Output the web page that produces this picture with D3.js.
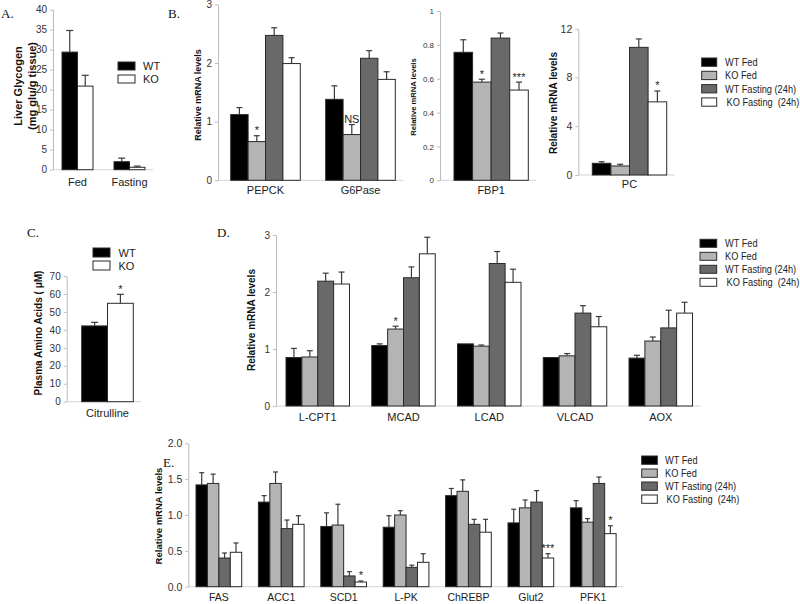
<!DOCTYPE html>
<html><head><meta charset="utf-8">
<script src="https://cdn.jsdelivr.net/npm/d3@7"></script>
<style>
body{margin:0;background:#fff}
svg{display:block}
text{font-family:"Liberation Sans",Arial,sans-serif;white-space:pre}
</style>
</head><body>
<svg id="chart" width="800" height="604"></svg>
<script>
// ---------------- DATA ----------------
// Panel A – liver glycogen
const glycoCats = ["Fed", "Fasting"];
const glycoSeries = ["WT", "KO"];
const glycoValues = [[29.4, 2.0], [20.9, 0.6]];
const glycoErrors = [[5.4, 0.9], [2.7, 0.3]];
const glycoTicks = [0, 5, 10, 15, 20, 25, 30, 35, 40];

// Four-group series used in B, D, E
const fourSeries = ["WT Fed", "KO Fed", "WT Fasting (24h)", "KO Fasting  (24h)"];

// Panel B – gluconeogenic genes
const gngCats = ["PEPCK", "G6Pase"];
const gngValues = [[1.12, 1.38], [0.66, 0.78], [2.47, 2.08], [1.99, 1.72]];
const gngErrors = [[0.12, 0.23], [0.10, 0.17], [0.13, 0.13], [0.10, 0.13]];
const gngTicks = [0, 1, 2, 3];
const gngSig = [["PEPCK", 1, "*"], ["G6Pase", 1, "NS"]];

const fbpCats = ["FBP1"];
const fbpValues = [[0.756], [0.58], [0.84], [0.533]];
const fbpErrors = [[0.074], [0.017], [0.03], [0.047]];
const fbpTicks = [0, 0.2, 0.4, 0.6, 0.8, 1];
const fbpSig = [["FBP1", 1, "*"], ["FBP1", 3, "***"]];

const pcCats = ["PC"];
const pcValues = [[0.96], [0.74], [10.47], [6.0]];
const pcErrors = [[0.13], [0.14], [0.69], [0.89]];
const pcTicks = [0, 4, 8, 12];
const pcSig = [["PC", 3, "*"]];

// Panel C – plasma citrulline
const aaCats = ["Citrulline"];
const aaValues = [[42.2], [54.8]];
const aaErrors = [[2.0], [5.0]];
const aaTicks = [0, 10, 20, 30, 40, 50, 60, 70];
const aaSig = [["Citrulline", 1, "*"]];

// Panel D – fatty-acid oxidation genes
const faoCats = ["L-CPT1", "MCAD", "LCAD", "VLCAD", "AOX"];
const faoValues = [
  [0.85, 1.06, 1.09, 0.85, 0.84],
  [0.86, 1.35, 1.05, 0.88, 1.14],
  [2.19, 2.25, 2.50, 1.63, 1.37],
  [2.14, 2.67, 2.17, 1.39, 1.63]];
const faoErrors = [
  [0.16, 0.03, 0.0, 0.0, 0.05],
  [0.11, 0.05, 0.02, 0.04, 0.07],
  [0.14, 0.19, 0.21, 0.13, 0.31],
  [0.21, 0.29, 0.23, 0.18, 0.19]];
const faoTicks = [0, 1, 2, 3];
const faoSig = [["MCAD", 1, "*"]];

// Panel E – lipogenic / glycolytic genes
const lipoCats = ["FAS", "ACC1", "SCD1", "L-PK", "ChREBP", "Glut2", "PFK1"];
const lipoValues = [
  [1.42, 1.18, 0.84, 0.83, 1.27, 0.89, 1.10],
  [1.44, 1.44, 0.86, 1.00, 1.33, 1.10, 0.90],
  [0.40, 0.81, 0.15, 0.27, 0.87, 1.18, 1.44],
  [0.48, 0.87, 0.065, 0.34, 0.76, 0.40, 0.74]];
const lipoErrors = [
  [0.17, 0.09, 0.19, 0.16, 0.10, 0.19, 0.10],
  [0.13, 0.16, 0.29, 0.06, 0.16, 0.11, 0.05],
  [0.07, 0.12, 0.06, 0.03, 0.07, 0.16, 0.09],
  [0.13, 0.12, 0.015, 0.12, 0.18, 0.06, 0.11]];
const lipoTicks = [0, 0.5, 1.0, 1.5, 2.0];
const lipoSig = [["SCD1", 3, "*"], ["Glut2", 3, "***"], ["PFK1", 3, "*"]];

// ---------------- STYLE ----------------
const FOUR_COLORS = ["#000000", "#b4b4b4", "#696969", "#ffffff"];
const TWO_COLORS = ["#000000", "#ffffff"];
const SANS = '"Liberation Sans", Arial, sans-serif';
const SERIF = '"Liberation Serif", "Times New Roman", serif';

const svg = d3.select("#chart");

function panel(o) {
  const n = o.cats.length;
  const pi = n > 1 ? 1 - o.gw / o.step : 0;
  const span = n > 1 ? o.step * (n - pi) : o.gw;
  const x0 = d3.scaleBand().domain(o.cats).range([o.start, o.start + span])
    .paddingInner(pi).paddingOuter(0);
  const x1 = d3.scaleBand().domain(d3.range(o.values.length)).range([0, x0.bandwidth()]);
  const y = d3.scaleLinear().domain(o.domain).range(o.yrange);

  // baseline
  svg.append("line").attr("x1", o.axisX).attr("x2", o.start + span + 8)
    .attr("y1", y(0)).attr("y2", y(0)).attr("stroke", "#d4d4d4").attr("stroke-width", 1);

  // y axis
  const ax = d3.axisLeft(y).tickValues(o.ticks).tickFormat(o.fmt || d3.format("d"))
    .tickSize(3).tickSizeOuter(0).tickPadding(3);
  const g = svg.append("g").attr("transform", `translate(${o.axisX},0)`).call(ax);
  g.select(".domain").attr("stroke", "#bdbdbd");
  g.selectAll(".tick line").attr("stroke", "#bdbdbd");
  g.selectAll(".tick text").attr("fill", "#333").attr("font-family", SANS)
    .style("font-size", o.tickSize + "px");

  // bars + error bars
  o.values.forEach((vals, si) => {
    const col = o.colors[si];
    const gg = svg.append("g");
    gg.selectAll("rect").data(o.cats).join("rect")
      .attr("x", c => x0(c) + x1(si))
      .attr("y", (c, ci) => y(vals[ci]))
      .attr("width", x1.bandwidth())
      .attr("height", (c, ci) => y(0) - y(vals[ci]))
      .attr("fill", col).attr("stroke", "#2a2a2a").attr("stroke-width", 1);
    o.cats.forEach((c, ci) => {
      const e = o.errors[si][ci];
      if (!e) return;
      const cx = x0(c) + x1(si) + x1.bandwidth() / 2;
      const yt = y(vals[ci] + e);
      gg.append("line").attr("x1", cx).attr("x2", cx).attr("y1", y(vals[ci])).attr("y2", yt)
        .attr("stroke", "#3a3a3a").attr("stroke-width", 1.2);
      gg.append("line").attr("x1", cx - o.cap / 2).attr("x2", cx + o.cap / 2).attr("y1", yt).attr("y2", yt)
        .attr("stroke", "#3a3a3a").attr("stroke-width", 1.2);
    });
  });

  // significance
  (o.sig || []).forEach(([c, si, t]) => {
    const ci = o.cats.indexOf(c);
    const cx = x0(c) + x1(si) + x1.bandwidth() / 2;
    const yt = y(o.values[si][ci] + (o.errors[si][ci] || 0));
    svg.append("text").attr("x", cx).attr("y", yt - 1.5).attr("text-anchor", "middle")
      .attr("fill", "#222").style("font-size", "11px").text(t);
  });

  // category labels
  svg.append("g").selectAll("text").data(o.cats).join("text")
    .attr("x", c => x0(c) + x0.bandwidth() / 2).attr("y", o.labelY)
    .attr("text-anchor", "middle").attr("dominant-baseline", "central")
    .attr("fill", "#222").style("font-size", o.labelSize + "px").text(c => c);

  // y title
  o.titles.forEach(([t, tx]) => {
    svg.append("text").attr("transform", `translate(${tx},${o.titleY}) rotate(-90)`)
      .attr("text-anchor", "middle").attr("dominant-baseline", "central")
      .attr("font-weight", "bold").attr("fill", "#111")
      .style("font-size", o.titleSize + "px").text(t);
  });
}

function legend(names, colors, bx, by, bw, bh, dy, tx, size, squeeze) {
  const g = svg.append("g");
  names.forEach((nm, i) => {
    g.append("rect").attr("x", bx).attr("y", by + i * dy).attr("width", bw).attr("height", bh)
      .attr("fill", colors[i]).attr("stroke", "#2a2a2a").attr("stroke-width", 1);
    const px = tx + (i === names.length - 1 && names.length === 4 ? 1.5 : 0);
    g.append("text")
      .attr("transform", `translate(${px},${by + i * dy + bh / 2}) scale(${squeeze || 1},1)`)
      .attr("dominant-baseline", "central")
      .attr("fill", "#222").style("font-size", size + "px").text(nm);
  });
}

function letter(t, x, y) {
  svg.append("text").attr("x", x).attr("y", y)
    .style("font-family", SERIF).style("font-size", "13px").attr("fill", "#111").text(t);
}

// ---------------- PANELS ----------------
letter("A.", 1, 18);
panel({cats: glycoCats, values: glycoValues, errors: glycoErrors, colors: TWO_COLORS,
  start: 62, step: 52, gw: 31, axisX: 53, domain: [0, 40], yrange: [169.7, 9.7],
  ticks: glycoTicks, tickSize: 10, cap: 7, labelY: 182, labelSize: 11,
  titles: [["Liver Glycogen", 17.5], ["(mg glu/g tissue)", 32]], titleY: 86, titleSize: 11});
legend(glycoSeries, TWO_COLORS, 118, 62, 17, 8, 13, 143, 11);

letter("B.", 168, 18);
panel({cats: gngCats, values: gngValues, errors: gngErrors, colors: FOUR_COLORS,
  start: 230.7, step: 95, gw: 69.6, axisX: 218, domain: [0, 3], yrange: [180.3, 4.3],
  ticks: gngTicks, tickSize: 10, cap: 6, labelY: 190, labelSize: 11, sig: gngSig,
  titles: [["Relative mRNA levels", 198]], titleY: 95, titleSize: 9});
panel({cats: fbpCats, values: fbpValues, errors: fbpErrors, colors: FOUR_COLORS,
  start: 454, step: 100, gw: 74.3, axisX: 440, domain: [0, 1], yrange: [180.3, 11],
  ticks: fbpTicks, fmt: d => (d === 0 || d === 1) ? String(d) : d.toFixed(1),
  tickSize: 8, cap: 6, labelY: 190, labelSize: 11, sig: fbpSig,
  titles: [["Relative mRNA levels", 413]], titleY: 97, titleSize: 7.6});
panel({cats: pcCats, values: pcValues, errors: pcErrors, colors: FOUR_COLORS,
  start: 592.3, step: 100, gw: 74.4, axisX: 578.3, domain: [0, 12], yrange: [175, 28.7],
  ticks: pcTicks, tickSize: 10.5, cap: 6, labelY: 184, labelSize: 11, sig: pcSig,
  titles: [["Relative mRNA levels", 553]], titleY: 103, titleSize: 10});
legend(fourSeries, FOUR_COLORS, 701.7, 58, 15, 8.3, 13.3, 725, 11, 0.84);

letter("C.", 27, 237);
panel({cats: aaCats, values: aaValues, errors: aaErrors, colors: TWO_COLORS,
  start: 81.7, step: 100, gw: 51.6, axisX: 66.7, domain: [0, 70], yrange: [401.7, 276],
  ticks: aaTicks, tickSize: 10, cap: 7, labelY: 413.3, labelSize: 11, sig: aaSig,
  titles: [["Plasma Amino Acids ( \u03bcM)", 38]], titleY: 333, titleSize: 10});
legend(glycoSeries, TWO_COLORS, 93, 248, 17, 9, 13, 118.5, 11);

letter("D.", 217, 237);
panel({cats: faoCats, values: faoValues, errors: faoErrors, colors: FOUR_COLORS,
  start: 286, step: 85.75, gw: 63.5, axisX: 276, domain: [0, 3], yrange: [406, 235],
  ticks: faoTicks, tickSize: 10, cap: 6, labelY: 416.7, labelSize: 11, sig: faoSig,
  titles: [["Relative mRNA levels", 251.7]], titleY: 320, titleSize: 10});
legend(fourSeries, FOUR_COLORS, 700, 239.3, 16.7, 8, 13, 725, 11, 0.84);

letter("E.", 163, 467);
panel({cats: lipoCats, values: lipoValues, errors: lipoErrors, colors: FOUR_COLORS,
  start: 196, step: 62.4, gw: 45.7, axisX: 188.3, domain: [0, 2], yrange: [586.7, 443.3],
  ticks: lipoTicks, fmt: d3.format(".1f"), tickSize: 10.5, cap: 5, labelY: 596.5, labelSize: 10.5,
  sig: lipoSig, titles: [["Relative mRNA levels", 158.3]], titleY: 516, titleSize: 9.5});
legend(fourSeries, FOUR_COLORS, 641.7, 456, 15.6, 8.3, 13, 665, 11, 0.84);
</script>
</body></html>
